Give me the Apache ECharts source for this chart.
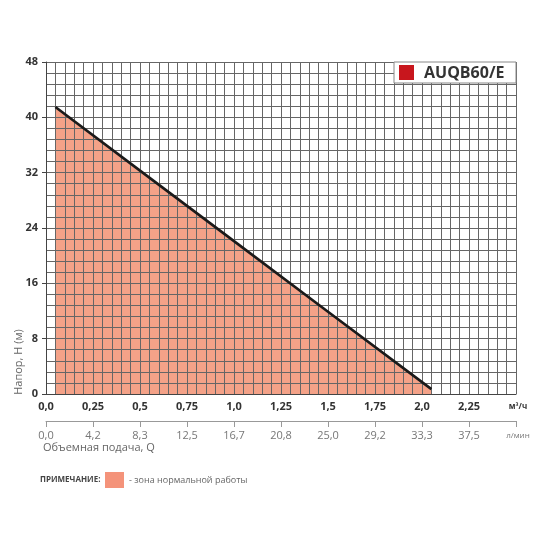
<!DOCTYPE html>
<html>
<head>
    <meta charset="utf-8">
    <title>AUQB60/E</title>
    <script type="text/javascript" src="https://cdn.jsdelivr.net/npm/echarts@6/dist/echarts.min.js"></script>
    <style>
        body {
            margin: 0px;
            padding: 0px;
            background: #fff;
        }
        #chart {
            width: 550px;
            height: 550px;
        }
    </style>
</head>
<body>
<div id="chart"></div>
<script type="text/javascript">
    // подача, м3/ч  и  напор, м
    var flowM3 = [0.05, 0.5, 1.0, 1.5, 2.05];
    var headM = [41.5, 32.3, 22.1, 11.9, 0.7];

    // подписи осей
    var m3Labels = ['0,0', '0,25', '0,5', '0,75', '1,0', '1,25', '1,5', '1,75', '2,0', '2,25', '{u|м³/ч}'];
    var lminLabels = ['0,0', '4,2', '8,3', '12,5', '16,7', '20,8', '25,0', '29,2', '33,3', '37,5', '{u|л/мин}'];
    var headLabels = ['0', '8', '16', '24', '32', '40', '48'];

    var modelName = 'AUQB60/E';
    var zoneName = '- зона нормальной работы';

    var curve = [];
    for (var i = 0; i < flowM3.length; i++) {
        curve.push([flowM3[i], headM[i]]);
    }

    function labelAt(list, step) {
        return function (v) {
            var k = Math.round(v / step);
            if (Math.abs(v / step - k) > 1e-6) return '';
            return list[k] !== undefined ? list[k] : '';
        };
    }

    var chart = echarts.init(document.getElementById('chart'));
    var font = '"Open Sans", "DejaVu Sans", sans-serif';

    var option = {
        animation: false,
        textStyle: {fontFamily: font},
        grid: {left: 46, right: 34, top: 62, bottom: 156},
        legend: {
            left: 105,
            top: 472,
            padding: 0,
            icon: 'rect',
            itemWidth: 19,
            itemHeight: 16,
            itemGap: 4,
            data: [{name: zoneName, itemStyle: {color: '#f4937a'}}],
            textStyle: {fontSize: 9, color: '#666', fontFamily: font}
        },
        xAxis: [
            {
                // сетка
                type: 'value', min: 0, max: 2.5, interval: 0.05, z: 3,
                axisLine: {show: true, lineStyle: {color: '#444', width: 1.2}},
                axisTick: {show: false},
                axisLabel: {show: false},
                splitLine: {show: true, lineStyle: {color: '#666', width: 1}}
            },
            {
                type: 'value', min: 0, max: 2.5, interval: 0.25, position: 'bottom', offset: 0,
                axisLine: {show: false},
                axisTick: {show: false},
                splitLine: {show: false},
                axisLabel: {
                    margin: 7, fontSize: 11, fontWeight: 'bold', color: '#333', fontFamily: font,
                    formatter: labelAt(m3Labels, 0.25),
                    rich: {u: {fontSize: 8, fontWeight: 'bold', color: '#333', padding: [2, 0, 0, 4]}}
                }
            },
            {
                type: 'value', min: 0, max: 2.5, interval: 0.25, position: 'bottom', offset: 27,
                axisLine: {show: true, lineStyle: {color: '#999', width: 1}},
                axisTick: {show: true, length: 6, lineStyle: {color: '#999'}},
                splitLine: {show: false},
                axisLabel: {
                    margin: 9, fontSize: 11, color: '#777', fontFamily: font,
                    formatter: labelAt(lminLabels, 0.25),
                    rich: {u: {fontSize: 8, color: '#777', padding: [2, 0, 0, 4]}}
                }
            }
        ],
        yAxis: [
            {
                type: 'value', min: 0, max: 48, interval: 1.6, z: 3,
                axisLine: {show: true, lineStyle: {color: '#444', width: 1}},
                axisTick: {show: false},
                axisLabel: {show: false},
                splitLine: {show: true, lineStyle: {color: '#666', width: 1}}
            },
            {
                type: 'value', min: 0, max: 48, interval: 8, position: 'left',
                axisLine: {show: false},
                axisTick: {show: true, length: 4, lineStyle: {color: '#444'}},
                splitLine: {show: false},
                axisLabel: {
                    margin: 8, fontSize: 11, fontWeight: 'bold', color: '#333', fontFamily: font,
                    formatter: labelAt(headLabels, 8)
                }
            }
        ],
        series: [
            {
                name: zoneName,
                type: 'line',
                data: curve,
                z: 2,
                color: '#f4937a',
                symbol: 'none',
                lineStyle: {width: 0, opacity: 0},
                areaStyle: {color: '#f4a288', opacity: 1}
            },
            {
                name: modelName,
                type: 'line',
                data: curve,
                z: 5,
                symbol: 'none',
                lineStyle: {color: '#1a1a1a', width: 2.6}
            }
        ],
        graphic: [
            {
                type: 'text', x: 19, y: 362, rotation: Math.PI / 2, z: 10,
                style: {text: 'Напор, Н (м)', fill: '#666', font: '11px ' + font,
                    align: 'center', verticalAlign: 'middle'}
            },
            {
                type: 'text', left: 43, top: 442, z: 10,
                style: {text: 'Объемная подача, Q', fill: '#666', font: '11px ' + font}
            },
            {
                type: 'text', left: 40, top: 476, z: 10,
                style: {text: 'ПРИМЕЧАНИЕ:', fill: '#444', font: 'bold 8px ' + font}
            },
            {
                type: 'rect', z: 20, shape: {x: 394, y: 62, width: 122, height: 21},
                style: {fill: '#fff', stroke: '#888', lineWidth: 1}
            },
            {
                type: 'rect', z: 21, shape: {x: 399, y: 65, width: 15, height: 15},
                style: {fill: '#c8161d'}
            },
            {
                type: 'text', z: 21, x: 424, y: 73,
                style: {text: modelName, fill: '#333', font: 'bold 16px ' + font,
                    verticalAlign: 'middle'}
            }
        ]
    };
    chart.setOption(option);
</script>
</body>
</html>
